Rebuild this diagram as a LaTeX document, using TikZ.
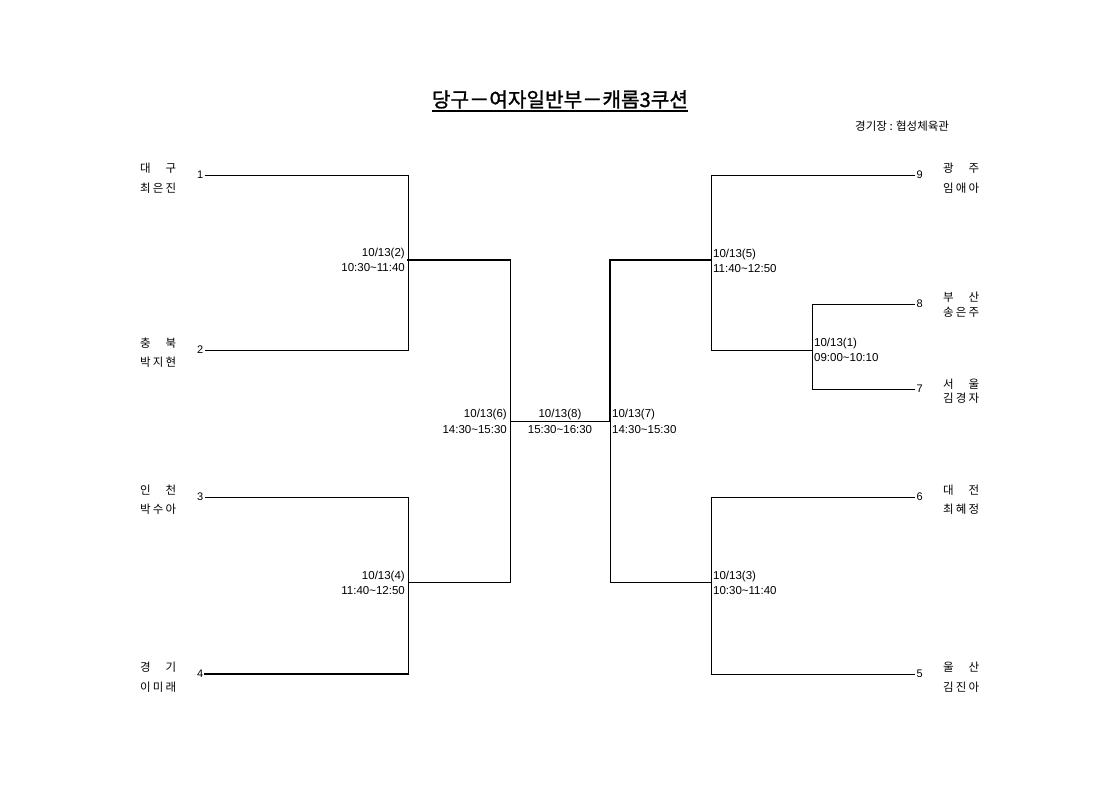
\documentclass[tikz,border=0pt]{standalone}
\usepackage{fontspec}
\setmainfont{Liberation Sans}
\newfontfamily\kr{Noto Sans CJK KR}
\newfontfamily\krtitle[FakeBold=1.2]{Noto Sans CJK KR}
\newcommand\twonm[2]{\makebox[36pt][s]{#1\hfill#2}}
\newcommand\threenm[3]{\makebox[36pt][s]{#1\hfill#2\hfill#3}}
\tikzset{
  br/.style={line width=0.9pt, line cap=rect},
  brthick/.style={line width=1.7pt, line cap=rect},
  num/.style={font=\fontsize{11}{13}\selectfont, inner sep=1.5pt},
  lbl/.style={font=\fontsize{11.5}{13}\selectfont, inner sep=0pt},
  team/.style={font=\kr\fontsize{11.5}{13}\selectfont, inner sep=0pt, anchor=base west},
}
\begin{document}
\begin{tikzpicture}[x=1pt,y=-1pt]
\useasboundingbox (0,0) rectangle (1120,792);
\fill[white] (0,0) rectangle (1120,792);

% title
\node[font=\krtitle\fontsize{20.2}{22}\selectfont, inner sep=0pt, anchor=base] (title) at (560,107) {당구－여자일반부－캐롬3쿠션};
\draw[line width=1.3pt] ([yshift=-4pt]title.base west) -- ([yshift=-4pt]title.base east);
\node[font=\kr\fontsize{11.5}{13}\selectfont, inner sep=0pt, anchor=base west] (venue) at (855,131) {경기장 : 협성체육관};

% coordinates
\coordinate (L1) at (205,175); \coordinate (L1e) at (408,175);
\coordinate (L2) at (205,350); \coordinate (L2e) at (408,350);
\coordinate (M2) at (408,260); \coordinate (M2e) at (510,260);
\coordinate (L3) at (205,497); \coordinate (L3e) at (408,497);
\coordinate (L4) at (205,674); \coordinate (L4e) at (408,674);
\coordinate (M4) at (408,582); \coordinate (M4e) at (510,582);
\coordinate (C6) at (510,421); \coordinate (C7) at (610,421);
\coordinate (M7t) at (610,260); \coordinate (M7b) at (610,582);
\coordinate (M5) at (711,260); \coordinate (M3) at (711,582);
\coordinate (R9) at (915,175); \coordinate (R9s) at (711,175);
\coordinate (R1o) at (711,350); \coordinate (M1) at (812,350);
\coordinate (R8) at (915,304); \coordinate (R8s) at (812,304);
\coordinate (R7) at (915,389); \coordinate (R7s) at (812,389);
\coordinate (R6) at (915,497); \coordinate (R6s) at (711,497);
\coordinate (R5) at (915,674); \coordinate (R5s) at (711,674);

% left bracket
\draw[br] (L1) -- (L1e) -- (L2e) -- (L2);
\draw[br] (L3) -- (L3e) -- (L4e);
\draw[brthick] (L4e) -- (L4);
\draw[brthick] (M2) -- (M2e);
\draw[br] (M2e) -- (M4e) -- (M4);
\draw[br] (C6) -- (C7);
% right bracket
\draw[brthick] (M5) -- (M7t) -- (C7);
\draw[br] (C7) -- (M7b) -- (M3);
\draw[br] (R9) -- (R9s) -- (R1o) -- (M1);
\draw[br] (R8) -- (R8s) -- (R7s) -- (R7);
\draw[br] (R6) -- (R6s) -- (R5s) -- (R5);

% numbers
\node[num, anchor=east] (n1) at (L1) {1};
\node[num, anchor=east] (n2) at (L2) {2};
\node[num, anchor=east] (n3) at (L3) {3};
\node[num, anchor=east] (n4) at (L4) {4};
\node[num, anchor=west] (n9) at (R9) {9};
\node[num, anchor=west] (n8) at (R8) {8};
\node[num, anchor=west] (n7) at (R7) {7};
\node[num, anchor=west] (n6) at (R6) {6};
\node[num, anchor=west] (n5) at (R5) {5};

% teams left
\node[team] (a1) at (140,172) {\twonm{대}{구}};
\node[team] (b1) at (140,192) {\threenm{최}{은}{진}};
\node[team] (a2) at (140,347) {\twonm{충}{북}};
\node[team] (b2) at (140,366) {\threenm{박}{지}{현}};
\node[team] (a3) at (140,494) {\twonm{인}{천}};
\node[team] (b3) at (140,513) {\threenm{박}{수}{아}};
\node[team] (a4) at (140,671) {\twonm{경}{기}};
\node[team] (b4) at (140,691) {\threenm{이}{미}{래}};
% teams right
\node[team] (a9) at (943,172) {\twonm{광}{주}};
\node[team] (b9) at (943,192) {\threenm{임}{애}{아}};
\node[team] (a8) at (943,301) {\twonm{부}{산}};
\node[team] (b8) at (943,316) {\threenm{송}{은}{주}};
\node[team] (a7) at (943,388) {\twonm{서}{울}};
\node[team] (b7) at (943,402) {\threenm{김}{경}{자}};
\node[team] (a6) at (943,494) {\twonm{대}{전}};
\node[team] (b6) at (943,513) {\threenm{최}{혜}{정}};
\node[team] (a5) at (943,671) {\twonm{울}{산}};
\node[team] (b5) at (943,691) {\threenm{김}{진}{아}};

% match labels
\node[lbl, anchor=base east] (d2) at (405,256) {10/13(2)};
\node[lbl, anchor=base east] (t2) at (405,271) {10:30\textasciitilde 11:40};
\node[lbl, anchor=base east] (d4) at (405,579) {10/13(4)};
\node[lbl, anchor=base east] (t4) at (405,594) {11:40\textasciitilde 12:50};
\node[lbl, anchor=base east] (d6) at (507,417) {10/13(6)};
\node[lbl, anchor=base east] (t6) at (507,433) {14:30\textasciitilde 15:30};
\node[lbl, anchor=base] (d8) at (560,417) {10/13(8)};
\node[lbl, anchor=base] (t8) at (560,433) {15:30\textasciitilde 16:30};
\node[lbl, anchor=base west] (d7) at (612,417) {10/13(7)};
\node[lbl, anchor=base west] (t7) at (612,433) {14:30\textasciitilde 15:30};
\node[lbl, anchor=base west] (d5) at (713,257) {10/13(5)};
\node[lbl, anchor=base west] (t5) at (713,272) {11:40\textasciitilde 12:50};
\node[lbl, anchor=base west] (d1) at (814,346) {10/13(1)};
\node[lbl, anchor=base west] (t1) at (814,361) {09:00\textasciitilde 10:10};
\node[lbl, anchor=base west] (d3) at (713,579) {10/13(3)};
\node[lbl, anchor=base west] (t3) at (713,594) {10:30\textasciitilde 11:40};
\end{tikzpicture}
\end{document}
